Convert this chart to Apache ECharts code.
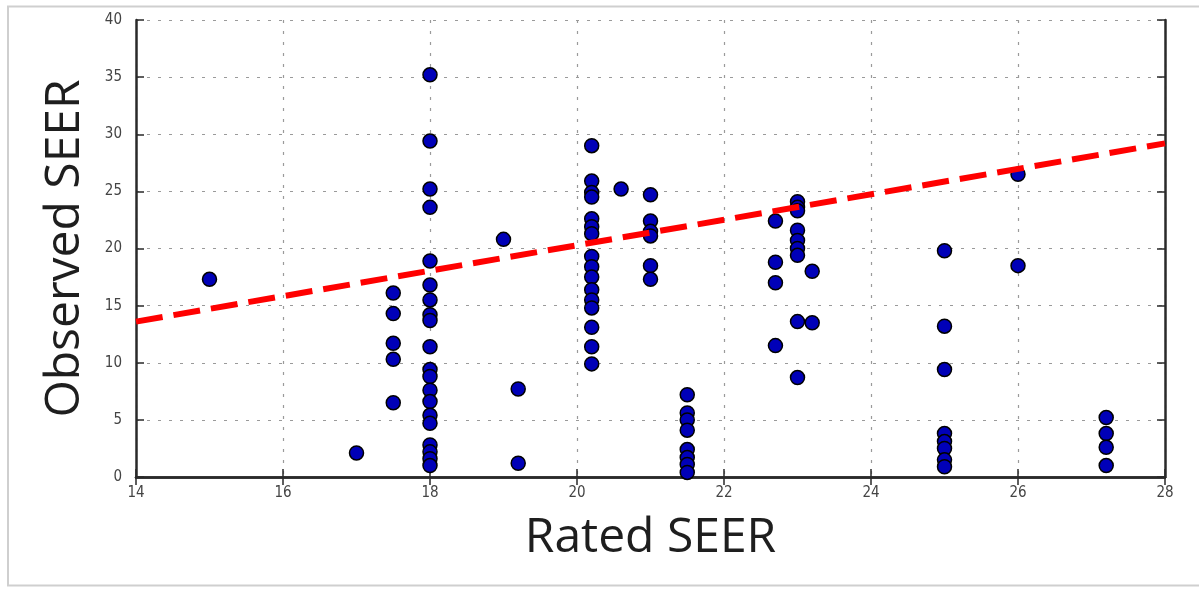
<!DOCTYPE html>
<html>
<head>
<meta charset="utf-8">
<script src="https://cdn.jsdelivr.net/npm/echarts@6/dist/echarts.min.js"></script>
<style>
html,body{margin:0;padding:0;background:#fff;}
#chart{width:1199px;height:596px;}
</style>
</head>
<body>
<div id="chart"></div>
<script>
// Rated SEER (x) and Observed SEER (y) for each measured unit
var ratedSEER = [
  15,
  17,
  17.5, 17.5, 17.5, 17.5, 17.5,
  18, 18, 18, 18, 18, 18, 18, 18, 18, 18, 18, 18, 18, 18, 18, 18, 18, 18, 18, 18,
  19,
  19.2, 19.2,
  20.2, 20.2, 20.2, 20.2, 20.2, 20.2, 20.2, 20.2, 20.2, 20.2, 20.2, 20.2, 20.2, 20.2, 20.2, 20.2,
  20.6,
  21, 21, 21, 21, 21, 21,
  21.5, 21.5, 21.5, 21.5, 21.5, 21.5, 21.5, 21.5,
  22.7, 22.7, 22.7, 22.7,
  23, 23, 23, 23, 23, 23, 23, 23, 23,
  23.2, 23.2,
  25, 25, 25, 25, 25, 25, 25, 25,
  26, 26,
  27.2, 27.2, 27.2, 27.2
];
var observedSEER = [
  17.3,
  2.1,
  16.1, 14.3, 11.7, 10.3, 6.5,
  35.2, 29.4, 25.2, 23.6, 18.9, 16.8, 15.5, 14.2, 13.7, 11.4, 9.4, 8.8, 7.6, 6.6, 5.4, 4.7, 2.8, 2.2, 1.6, 1.0,
  20.8,
  7.7, 1.2,
  29.0, 25.9, 24.9, 24.5, 22.6, 21.9, 21.3, 19.3, 18.4, 17.5, 16.4, 15.5, 14.8, 13.1, 11.4, 9.9,
  25.2,
  24.7, 22.4, 21.5, 21.1, 18.5, 17.3,
  7.2, 5.6, 5.0, 4.1, 2.4, 1.7, 1.1, 0.4,
  22.4, 18.8, 17.0, 11.5,
  24.1, 23.6, 23.3, 21.6, 20.7, 20.0, 19.4, 13.6, 8.7,
  18.0, 13.5,
  19.8, 13.2, 9.4, 3.8, 3.1, 2.5, 1.5, 0.9,
  26.5, 18.5,
  5.2, 3.8, 2.6, 1.0
];
// Fitted trend line end points
var fitX = [14, 28];
var fitY = [13.6, 29.2];

var xTicks = {min: 14, max: 28, interval: 2};
var yTicks = {min: 0, max: 40, interval: 5};
var xTitle = 'Rated SEER';
var yTitle = 'Observed SEER';

var points = ratedSEER.map(function (x, i) { return [x, observedSEER[i]]; });
var fitLine = fitX.map(function (x, i) { return [x, fitY[i]]; });

var chart = echarts.init(document.getElementById('chart'), null, {renderer: 'canvas'});
var labelFont = {color: '#444', fontSize: 15, fontFamily: 'DejaVu Sans Condensed, DejaVu Sans, sans-serif'};
var frameLine = {show: true, lineStyle: {color: '#2a2a2a', width: 2.5}};
var tickIn = {show: true, inside: true, length: 8, lineStyle: {color: '#2a2a2a', width: 1.5}};
var gridLine = {show: true, lineStyle: {color: '#9a9a9a', width: 1.2, type: [3, 8]}};
var titleFont = {fontSize: 48, color: '#1e1e1e', fontFamily: 'Open Sans, sans-serif'};

chart.setOption({
  animation: false,
  backgroundColor: '#fff',
  graphic: [{
    type: 'rect', silent: true, z: -10,
    shape: {x: 8, y: 6.5, width: 1200, height: 579},
    style: {fill: 'none', stroke: '#cfcfcf', lineWidth: 2}
  }],
  grid: {left: 136, right: 34, top: 20, bottom: 119, containLabel: false},
  xAxis: [{
    type: 'value', min: xTicks.min, max: xTicks.max, interval: xTicks.interval,
    position: 'bottom',
    axisLine: frameLine, axisTick: tickIn, splitLine: gridLine,
    axisLabel: Object.assign({margin: 9}, labelFont),
    name: xTitle, nameLocation: 'middle', nameGap: 37,
    nameTextStyle: titleFont
  }, {
    type: 'value', min: xTicks.min, max: xTicks.max, interval: xTicks.interval,
    position: 'top',
    axisLine: frameLine, axisTick: tickIn, splitLine: {show: false},
    axisLabel: {show: false}
  }],
  yAxis: [{
    type: 'value', min: yTicks.min, max: yTicks.max, interval: yTicks.interval,
    position: 'left',
    axisLine: frameLine, axisTick: tickIn, splitLine: gridLine,
    axisLabel: Object.assign({margin: 14}, labelFont),
    name: yTitle, nameLocation: 'middle', nameGap: 47,
    nameTextStyle: titleFont
  }, {
    type: 'value', min: yTicks.min, max: yTicks.max, interval: yTicks.interval,
    position: 'right',
    axisLine: frameLine, axisTick: tickIn, splitLine: {show: false},
    axisLabel: {show: false}
  }],
  series: [{
    type: 'scatter',
    data: points,
    symbol: 'circle',
    symbolSize: 14,
    itemStyle: {color: '#0000b8', borderColor: '#000', borderWidth: 1.5, opacity: 1},
    z: 3
  }, {
    type: 'line',
    data: fitLine,
    symbol: 'none',
    lineStyle: {color: '#ff0000', width: 6, type: [27, 11]},
    z: 5
  }]
});
</script>
</body>
</html>
